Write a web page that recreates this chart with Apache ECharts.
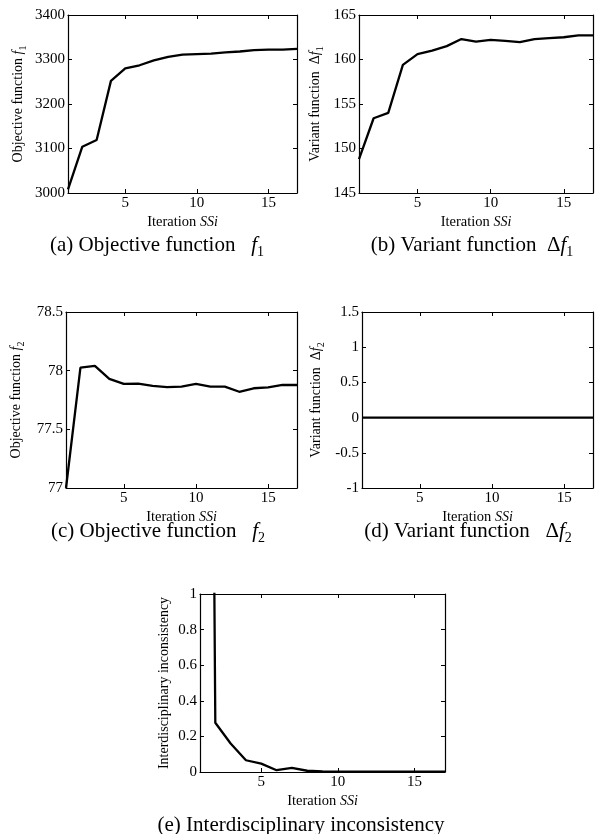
<!DOCTYPE html>
<html>
<head>
<meta charset="utf-8">
<script src="https://cdn.jsdelivr.net/npm/echarts@6/dist/echarts.min.js"></script>
<style>
  html, body { margin: 0; padding: 0; background: #fff; }
  #main { width: 596px; height: 834px; }
</style>
</head>
<body>
<div id="main"></div>
<script>
// iteration SSi
var iterations = [1, 2, 3, 4, 5, 6, 7, 8, 9, 10, 11, 12, 13, 14, 15, 16, 17];
var objectiveF1 = [3008, 3104, 3119, 3252, 3280, 3287, 3298, 3306, 3311, 3312, 3313, 3316, 3318, 3321, 3322, 3322, 3324];
var variantF1 = [148.8, 153.4, 154.0, 159.4, 160.6, 161.0, 161.5, 162.3, 162.0, 162.2, 162.1, 161.95, 162.3, 162.4, 162.5, 162.7, 162.7];
var objectiveF2 = [77.0, 78.025, 78.04, 77.93, 77.887, 77.89, 77.87, 77.86, 77.864, 77.887, 77.864, 77.864, 77.82, 77.85, 77.858, 77.878, 77.878];
var variantF2 = [0, 0, 0, 0, 0, 0, 0, 0, 0, 0, 0, 0, 0, 0, 0, 0, 0];
var inconsistency = [12, 0.277, 0.16, 0.066, 0.047, 0.01, 0.023, 0.007, 0.003, 0.002, 0.002, 0.002, 0.002, 0.002, 0.002, 0.002, 0.002];

// tick labels
var xTicks = [5, 10, 15];
var yTicksA = [3000, 3100, 3200, 3300, 3400];
var yTicksB = [145, 150, 155, 160, 165];
var yTicksC = [77, 77.5, 78, 78.5];
var yTicksD = [-1, -0.5, 0, 0.5, 1, 1.5];
var yTicksE = [0, 0.2, 0.4, 0.6, 0.8, 1];

var FONT = 'Liberation Serif';
var rich = {
  i: { fontFamily: FONT, fontStyle: 'italic', fontSize: 14, lineHeight: 20, color: '#000' },
  s: { fontFamily: FONT, fontSize: 10, lineHeight: 10, verticalAlign: 'bottom', color: '#000' }
};
var capRich = {
  i: { fontFamily: FONT, fontStyle: 'italic', fontSize: 21, lineHeight: 28, color: '#000' },
  s: { fontFamily: FONT, fontSize: 14, lineHeight: 14, verticalAlign: 'bottom', color: '#000' }
};

var grids = [], xAxes = [], yAxes = [], series = [];

function plain(v) { return String(v); }

function panel(box, values, yTicks, yName, yGap) {
  var g = grids.length;
  grids.push({ left: box[0], top: box[1], width: box[2], height: box[3], outerBoundsMode: 'none' });
  var line = { show: true, onZero: false, lineStyle: { color: '#000', width: 1.2 } };
  var tick = { show: true, inside: true, length: 4, lineStyle: { color: '#000', width: 1 } };
  xAxes.push({
    gridIndex: g, type: 'value', min: 1, max: 17, position: 'bottom',
    axisLine: line,
    axisTick: Object.assign({ customValues: xTicks }, tick),
    axisLabel: { customValues: xTicks, formatter: plain, fontFamily: FONT, fontSize: 15, color: '#000', margin: 3 },
    splitLine: { show: false },
    name: 'Iteration {i|SSi}', nameLocation: 'middle', nameGap: 16,
    nameTextStyle: { fontFamily: FONT, fontSize: 14.5, lineHeight: 20, color: '#000', rich: rich }
  });
  xAxes.push({
    gridIndex: g, type: 'value', min: 1, max: 17, position: 'top',
    axisLine: line,
    axisTick: Object.assign({ customValues: xTicks }, tick),
    axisLabel: { show: false },
    splitLine: { show: false }
  });
  var ymin = yTicks[0], ymax = yTicks[yTicks.length - 1];
  yAxes.push({
    gridIndex: g, type: 'value', min: ymin, max: ymax, position: 'left',
    axisLine: line,
    axisTick: Object.assign({ customValues: yTicks }, tick),
    axisLabel: { customValues: yTicks, formatter: plain, fontFamily: FONT, fontSize: 15, color: '#000', margin: 3 },
    splitLine: { show: false },
    name: yName, nameLocation: 'middle', nameGap: yGap,
    nameTextStyle: { fontFamily: FONT, fontSize: 14, lineHeight: 20, color: '#000', rich: rich }
  });
  yAxes.push({
    gridIndex: g, type: 'value', min: ymin, max: ymax, position: 'right',
    axisLine: line,
    axisTick: Object.assign({ customValues: yTicks }, tick),
    axisLabel: { show: false },
    splitLine: { show: false }
  });
  series.push({
    type: 'line',
    xAxisIndex: 2 * g,
    yAxisIndex: 2 * g,
    data: iterations.map(function (x, i) { return [x, values[i]]; }),
    showSymbol: false,
    clip: true,
    lineStyle: { color: '#000', width: 2.3 }
  });
}

panel([68, 15, 229, 178], objectiveF1, yTicksA, 'Objective function {i|f}{s|1}', 40);
panel([359, 15, 234, 178], variantF1, yTicksB, 'Variant function  Δ{i|f}{s|1}', 34);
panel([66, 312, 231, 176], objectiveF2, yTicksC, 'Objective function {i|f}{s|2}', 40);
panel([362, 312, 231, 176], variantF2, yTicksD, 'Variant function  Δ{i|f}{s|2}', 36);
panel([200, 594, 245, 178], inconsistency, yTicksE, 'Interdisciplinary inconsistency', 26);

function caption(x, y, text) {
  return {
    type: 'text', x: x, y: y,
    style: {
      text: text, fontFamily: FONT, fontSize: 21, lineHeight: 28, fill: '#000',
      align: 'center', verticalAlign: 'middle', textAlign: 'center', textVerticalAlign: 'middle',
      rich: capRich
    }
  };
}

var chart = echarts.init(document.getElementById('main'));
chart.setOption({
  animation: false,
  backgroundColor: '#fff',
  grid: grids,
  xAxis: xAxes,
  yAxis: yAxes,
  series: series,
  graphic: [
    caption(157, 245, '(a) Objective function   {i|f}{s|1}'),
    caption(472, 245, '(b) Variant function  Δ{i|f}{s|1}'),
    caption(158, 531, '(c) Objective function   {i|f}{s|2}'),
    caption(468, 531, '(d) Variant function   Δ{i|f}{s|2}'),
    caption(301, 825, '(e) Interdisciplinary inconsistency')
  ]
});
</script>
</body>
</html>
